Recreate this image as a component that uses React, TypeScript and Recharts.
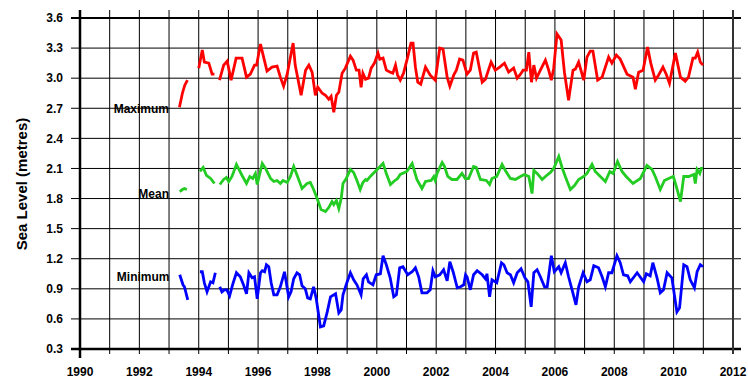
import React from 'react';
import { LineChart, Line, XAxis, YAxis } from 'recharts';

const yearTicks = [1990, 1991, 1992, 1993, 1994, 1995, 1996, 1997, 1998, 1999, 2000, 2001, 2002, 2003, 2004, 2005, 2006, 2007, 2008, 2009, 2010, 2011, 2012];
const levelTicks = [0.3, 0.6, 0.9, 1.2, 1.5, 1.8, 2.1, 2.4, 2.7, 3.0, 3.3, 3.6];

const maxYears = [1993.35, 1993.45, 1993.53, 1993.62, 1993.8, 1994.0, 1994.12, 1994.19, 1994.34, 1994.45, 1994.53, 1994.62, 1994.7, 1994.84, 1994.96, 1995.09, 1995.26, 1995.46, 1995.61, 1995.74, 1995.88, 1995.95, 1996.08, 1996.3, 1996.47, 1996.64, 1996.75, 1996.86, 1996.98, 1997.18, 1997.25, 1997.45, 1997.6, 1997.71, 1997.82, 1997.93, 1998.01, 1998.16, 1998.27, 1998.38, 1998.46, 1998.55, 1998.64, 1998.72, 1998.83, 1998.94, 1999.11, 1999.2, 1999.31, 1999.4, 1999.47, 1999.53, 1999.62, 1999.72, 1999.81, 1999.92, 2000.04, 2000.1, 2000.21, 2000.32, 2000.45, 2000.54, 2000.63, 2000.7, 2000.79, 2000.9, 2001.04, 2001.15, 2001.22, 2001.3, 2001.38, 2001.48, 2001.64, 2001.8, 2001.97, 2002.12, 2002.23, 2002.37, 2002.46, 2002.59, 2002.68, 2002.79, 2002.9, 2003.04, 2003.15, 2003.26, 2003.35, 2003.55, 2003.66, 2003.85, 2003.99, 2004.14, 2004.3, 2004.44, 2004.61, 2004.73, 2004.84, 2004.93, 2005.04, 2005.12, 2005.21, 2005.29, 2005.38, 2005.51, 2005.68, 2005.79, 2005.88, 2005.96, 2006.07, 2006.21, 2006.32, 2006.46, 2006.61, 2006.69, 2006.8, 2006.97, 2007.08, 2007.19, 2007.28, 2007.44, 2007.59, 2007.81, 2007.92, 2008.07, 2008.2, 2008.43, 2008.63, 2008.71, 2008.82, 2008.97, 2009.12, 2009.23, 2009.38, 2009.49, 2009.64, 2009.75, 2009.86, 2010.06, 2010.23, 2010.39, 2010.5, 2010.65, 2010.73, 2010.81, 2010.9, 2010.99];
const maxValues = [2.71, 2.85, 2.93, 2.98, null, 3.1, 3.28, 3.16, 3.15, 3.04, 3.04, null, 2.98, 3.13, 3.17, 2.98, 3.2, 3.2, 3.01, 3.04, 3.13, 3.13, 3.34, 3.07, 3.11, 3.12, 3.01, 2.92, 3.04, 3.35, 3.13, 2.83, 3.08, 3.13, 3.06, 2.83, 2.91, 2.85, 2.83, 2.79, 2.82, 2.66, 2.83, 2.86, 3.05, 3.1, 3.22, 3.18, 3.08, 3.08, 2.91, 3.05, 2.99, 3.0, 3.1, 3.15, 3.25, 3.19, 3.2, 3.08, 3.06, 3.05, 3.13, 3.03, 2.98, 3.05, 3.21, 3.35, 3.35, 3.11, 2.96, 2.94, 3.11, 3.03, 2.98, 3.3, 3.29, 3.01, 2.92, 3.03, 3.08, 3.19, 3.18, 3.04, 3.08, 3.25, 3.26, 2.96, 2.99, 3.16, 3.08, 3.11, 3.15, 3.06, 3.1, 3.0, 3.04, 3.08, 3.08, 3.26, 2.96, 3.13, 3.0, 3.08, 3.18, 3.08, 2.98, 3.1, 3.44, 3.38, 3.06, 2.78, 3.08, 3.09, 3.16, 2.98, 3.21, 3.27, 3.27, 2.98, 3.01, 3.21, 3.15, 3.23, 3.19, 3.04, 3.01, 2.89, 3.06, 3.08, 3.31, 3.15, 2.98, 3.03, 3.11, 3.04, 2.95, 3.25, 3.01, 2.97, 3.01, 3.2, 3.2, 3.26, 3.16, 3.13];

const meanYears = [1993.36, 1993.45, 1993.52, 1993.6, 1993.8, 1994.04, 1994.15, 1994.26, 1994.4, 1994.53, 1994.62, 1994.71, 1994.84, 1994.93, 1995.01, 1995.12, 1995.27, 1995.46, 1995.61, 1995.72, 1995.82, 1995.91, 1995.97, 1996.14, 1996.25, 1996.42, 1996.53, 1996.64, 1996.75, 1996.84, 1996.98, 1997.09, 1997.2, 1997.33, 1997.48, 1997.65, 1997.76, 1997.87, 1997.99, 1998.12, 1998.27, 1998.38, 1998.49, 1998.55, 1998.64, 1998.72, 1998.8, 1998.86, 1998.97, 1999.11, 1999.22, 1999.33, 1999.44, 1999.53, 1999.62, 1999.67, 1999.78, 2000.01, 2000.21, 2000.32, 2000.46, 2000.57, 2000.7, 2000.79, 2001.01, 2001.19, 2001.24, 2001.35, 2001.52, 2001.64, 2001.83, 2001.92, 2001.97, 2002.03, 2002.2, 2002.28, 2002.39, 2002.53, 2002.7, 2002.87, 2002.98, 2003.09, 2003.26, 2003.35, 2003.49, 2003.69, 2003.8, 2003.88, 2004.04, 2004.22, 2004.33, 2004.5, 2004.67, 2004.84, 2004.97, 2005.12, 2005.23, 2005.29, 2005.4, 2005.57, 2005.68, 2005.85, 2005.96, 2006.13, 2006.24, 2006.35, 2006.52, 2006.66, 2006.8, 2006.97, 2007.08, 2007.25, 2007.36, 2007.53, 2007.7, 2007.85, 2007.96, 2008.11, 2008.26, 2008.4, 2008.63, 2008.88, 2009.1, 2009.27, 2009.38, 2009.55, 2009.69, 2009.83, 2009.99, 2010.09, 2010.23, 2010.34, 2010.51, 2010.68, 2010.73, 2010.79, 2010.88, 2010.93, 2010.99];
const meanValues = [1.87, 1.89, 1.9, 1.89, null, 2.07, 2.11, 2.03, 2.0, 1.95, null, 1.94, 1.99, 2.01, 1.97, 2.02, 2.14, 2.03, 1.95, 2.02, 2.0, 2.05, 1.94, 2.15, 2.1, 2.0, 1.97, 1.98, 1.95, 1.98, 1.96, 2.02, 2.12, 2.02, 1.9, 1.95, 1.96, 1.89, 1.8, 1.69, 1.67, 1.71, 1.77, 1.74, 1.78, 1.7, 1.8, 1.95, 2.0, 2.09, 2.06, 1.98, 1.89, 1.96, 1.99, 1.98, 2.02, 2.09, 2.15, 2.05, 1.94, 1.97, 2.0, 2.04, 2.07, 2.15, 2.1, 1.99, 1.9, 1.97, 1.98, 2.02, 1.98, 2.05, 2.16, 2.12, 2.02, 1.99, 1.99, 2.05, 2.0, 2.0, 2.12, 2.11, 1.99, 1.98, 1.94, 2.0, 2.02, 2.14, 2.08, 2.0, 1.99, 2.02, 2.04, 2.02, 1.85, 2.08, 2.05, 1.99, 2.02, 2.06, 2.1, 2.22, 2.11, 2.02, 1.89, 1.93, 1.99, 2.02, 2.05, 2.14, 2.07, 2.02, 1.97, 2.07, 2.05, 2.17, 2.07, 2.02, 1.95, 2.0, 2.13, 2.09, 2.02, 1.89, 1.98, 2.0, 2.02, 1.92, 1.77, 2.02, 2.02, 2.04, 1.95, 2.09, 2.05, 2.1, 2.1];

const minYears = [1993.36, 1993.47, 1993.52, 1993.63, 1993.8, 1994.04, 1994.12, 1994.19, 1994.28, 1994.4, 1994.48, 1994.56, 1994.63, 1994.71, 1994.78, 1994.86, 1994.95, 1995.04, 1995.15, 1995.27, 1995.4, 1995.52, 1995.61, 1995.69, 1995.8, 1995.88, 1995.97, 1996.08, 1996.14, 1996.22, 1996.28, 1996.36, 1996.44, 1996.53, 1996.64, 1996.75, 1996.89, 1997.03, 1997.11, 1997.2, 1997.31, 1997.4, 1997.48, 1997.59, 1997.67, 1997.76, 1997.87, 1997.96, 1998.1, 1998.21, 1998.33, 1998.44, 1998.61, 1998.72, 1998.8, 1998.86, 1998.99, 1999.11, 1999.22, 1999.33, 1999.47, 1999.54, 1999.65, 1999.72, 1999.87, 1999.98, 2000.12, 2000.21, 2000.32, 2000.45, 2000.57, 2000.66, 2000.77, 2000.88, 2001.04, 2001.19, 2001.3, 2001.41, 2001.52, 2001.69, 2001.8, 2001.89, 2001.97, 2002.12, 2002.25, 2002.37, 2002.46, 2002.57, 2002.71, 2002.82, 2002.93, 2002.99, 2003.04, 2003.15, 2003.26, 2003.38, 2003.55, 2003.66, 2003.71, 2003.8, 2003.88, 2004.04, 2004.2, 2004.28, 2004.39, 2004.5, 2004.61, 2004.73, 2004.86, 2004.99, 2005.09, 2005.2, 2005.29, 2005.4, 2005.51, 2005.65, 2005.74, 2005.88, 2005.98, 2006.13, 2006.21, 2006.35, 2006.46, 2006.57, 2006.71, 2006.8, 2006.95, 2007.08, 2007.19, 2007.31, 2007.47, 2007.59, 2007.7, 2007.81, 2007.92, 2008.09, 2008.2, 2008.31, 2008.45, 2008.54, 2008.77, 2008.99, 2009.08, 2009.21, 2009.3, 2009.44, 2009.55, 2009.66, 2009.78, 2009.94, 2010.11, 2010.2, 2010.34, 2010.45, 2010.56, 2010.7, 2010.79, 2010.9, 2010.99];
const minValues = [1.04, 0.94, 0.92, 0.79, null, 1.07, 1.07, 0.96, 0.87, 0.97, 0.96, 1.06, null, 0.92, 0.87, 0.89, 0.89, 0.83, 0.95, 1.06, 1.02, 0.93, 0.85, 1.06, 1.01, 1.02, 0.8, 1.06, 1.08, 1.07, 1.14, 1.12, 0.96, 0.84, 0.84, 0.92, 1.07, 0.82, 0.87, 1.0, 1.06, 1.04, 0.93, 0.9, 0.81, 0.8, 0.92, 0.8, 0.52, 0.53, 0.67, 0.82, 0.85, 0.66, 0.69, 0.84, 0.96, 1.06, 0.99, 0.94, 0.84, 1.0, 1.04, 0.97, 0.94, 1.04, 1.05, 1.23, 1.14, 1.01, 0.82, 0.84, 1.11, 1.12, 1.04, 1.07, 1.11, 1.02, 0.86, 0.86, 0.89, 1.08, 1.02, 1.04, 1.09, 0.98, 1.17, 1.07, 0.91, 0.92, 0.94, 1.04, 1.02, 0.89, 1.04, 1.08, 1.04, 1.0, 1.05, 0.82, 0.99, 0.96, 1.16, 1.14, 1.06, 1.04, 0.96, 1.06, 1.1, 1.01, 0.97, 0.72, 1.06, 1.09, 1.02, 0.92, 0.92, 1.23, 1.07, 1.12, 1.06, 1.16, 1.02, 0.9, 0.74, 0.92, 1.06, 0.97, 0.99, 1.13, 1.11, 1.02, 0.92, 1.06, 1.06, 1.23, 1.16, 1.04, 1.03, 0.97, 1.06, 0.97, 1.05, 1.03, 1.16, 1.01, 0.86, 0.89, 1.06, 1.01, 0.67, 0.71, 1.14, 1.12, 0.99, 0.91, 1.07, 1.14, 1.12];

const seriesNames = ['Maximum', 'Mean', 'Minimum'];
const seriesColors = ['#ff0000', '#22cc22', '#0000ff'];

type Row = { year: number; [k: string]: number };
const rowMap = new Map<number, Row>();
const segments: { key: string; color: string }[] = [];
const addSeries = (name: string, color: string, years: number[], values: (number | null)[]) => {
  let seg = 0;
  let open = false;
  years.forEach((yr, i) => {
    const v = values[i];
    if (v === null) {
      if (open) { seg += 1; open = false; }
      return;
    }
    const key = `${name}_${seg}`;
    if (!open) { segments.push({ key, color }); open = true; }
    const row = rowMap.get(yr) || { year: yr };
    row[key] = v;
    rowMap.set(yr, row);
  });
};
addSeries(seriesNames[0], seriesColors[0], maxYears, maxValues);
addSeries(seriesNames[1], seriesColors[1], meanYears, meanValues);
addSeries(seriesNames[2], seriesColors[2], minYears, minValues);
const tableData = Array.from(rowMap.values()).sort((a, b) => a.year - b.year);

const firstYear = yearTicks[0];
const lastYear = yearTicks[yearTicks.length - 1];
const lowLevel = levelTicks[0];
const highLevel = levelTicks[levelTicks.length - 1];

const W = 748;
const H = 389;
const M = { top: 18, right: 15, bottom: 0, left: 0 };
const X_AXIS_H = 40;
const Y_AXIS_W = 80;
const plotLeft = M.left + Y_AXIS_W;
const plotRight = W - M.right;
const plotTop = M.top;
const plotBottom = H - M.bottom - X_AXIS_H;
const xOf = (yr: number) => plotLeft + ((yr - firstYear) / (lastYear - firstYear)) * (plotRight - plotLeft);
const yOf = (lv: number) => plotTop + ((highLevel - lv) / (highLevel - lowLevel)) * (plotBottom - plotTop);

const FONT = 'Liberation Sans, Arial, sans-serif';

const GridUnderlay = () => (
  <svg width={W} height={H} style={{ position: 'absolute', left: 0, top: 0 }}>
    {levelTicks.map((lv) => {
      const y = yOf(lv);
      const isBottom = lv === lowLevel;
      const isTop = lv === highLevel;
      return (
        <line
          key={`h${lv}`}
          x1={plotLeft - 9}
          y1={y}
          x2={plotRight + 8}
          y2={y}
          stroke="black"
          strokeWidth={isBottom ? 2.5 : isTop ? 2 : 1}
        />
      );
    })}
    {yearTicks.map((yr) => {
      const x = xOf(yr);
      const isLeft = yr === firstYear;
      const isRight = yr === lastYear;
      return (
        <line
          key={`v${yr}`}
          x1={x}
          y1={plotTop - 8}
          x2={x}
          y2={plotBottom + (isLeft ? 9 : 5)}
          stroke={isRight ? '#333333' : 'black'}
          strokeWidth={isLeft ? 2.5 : isRight ? 2 : 1}
        />
      );
    })}
  </svg>
);

const labelStyle: React.CSSProperties = {
  position: 'absolute',
  width: 80,
  textAlign: 'right',
  fontFamily: FONT,
  fontSize: 12,
  lineHeight: '14px',
  fontWeight: 'bold',
  color: '#000',
  whiteSpace: 'nowrap',
};

const tickStyle = { fill: '#000', fontFamily: FONT, fontSize: 12, fontWeight: 'bold' as const };

export default function App() {
  return (
    <div style={{ position: 'absolute', left: 0, top: 0, width: W, height: H, background: '#fff' }}>
      <GridUnderlay />
      <div style={{ position: 'absolute', left: 0, top: 0 }}>
        <LineChart width={W} height={H} data={tableData} margin={M}>
          <XAxis
            type="number"
            dataKey="year"
            domain={[firstYear, lastYear]}
            ticks={yearTicks}
            interval={0}
            height={X_AXIS_H}
            stroke="#000000"
            axisLine={false}
            tickLine={false}
            tickSize={0}
            tickMargin={18}
            tick={tickStyle}
            tickFormatter={(v: number) => (v % 2 === 0 ? String(v) : '')}
          />
          <YAxis
            type="number"
            domain={[lowLevel, highLevel]}
            ticks={levelTicks}
            interval={0}
            width={Y_AXIS_W}
            stroke="#000000"
            axisLine={false}
            tickLine={false}
            tickSize={0}
            tickMargin={17}
            tick={tickStyle}
            tickFormatter={(v: number) => v.toFixed(1)}
          />
          {segments.map((s) => (
            <Line
              key={s.key}
              dataKey={s.key}
              type="linear"
              stroke={s.color}
              strokeWidth={2.8}
              dot={false}
              activeDot={false}
              connectNulls
              isAnimationActive={false}
            />
          ))}
        </LineChart>
      </div>
      <div
        style={{
          position: 'absolute',
          left: 21.5 - 100,
          top: 184 - 10,
          width: 200,
          height: 20,
          lineHeight: '20px',
          textAlign: 'center',
          fontFamily: FONT,
          fontSize: 15,
          fontWeight: 'bold',
          color: '#000',
          transform: 'rotate(-90deg)',
          whiteSpace: 'nowrap',
        }}
      >
        Sea Level (metres)
      </div>
      <div style={{ ...labelStyle, left: 169 - 80, top: 108.7 - 7 }}>{seriesNames[0]}</div>
      <div style={{ ...labelStyle, left: 169 - 80, top: 194 - 7 }}>{seriesNames[1]}</div>
      <div style={{ ...labelStyle, left: 169.5 - 80, top: 276.5 - 7 }}>{seriesNames[2]}</div>
    </div>
  );
}
